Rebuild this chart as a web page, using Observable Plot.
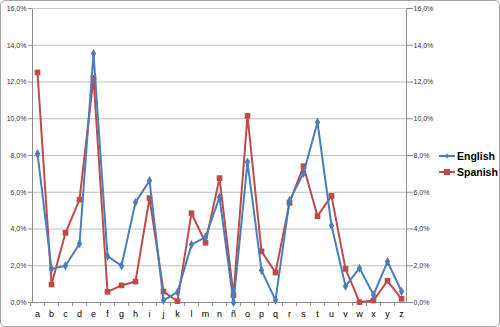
<!DOCTYPE html>
<html><head><meta charset="utf-8">
<script src="https://cdn.jsdelivr.net/npm/d3@7"></script>
<script src="https://cdn.jsdelivr.net/npm/@observablehq/plot@0.6"></script>
<style>
body{margin:0;background:#fff;font-family:"Liberation Sans",Arial,sans-serif;}
#wrap{position:relative;width:500px;height:327px;}
#border{position:absolute;left:0;top:0;width:500px;height:327px;box-sizing:border-box;border:1px solid #a6a6a6;border-radius:5px;pointer-events:none;}
#legend{position:absolute;left:439px;top:148px;font-size:10.5px;font-weight:bold;color:#000;}
.li{display:flex;align-items:center;height:16px;}
.li svg{margin-right:2px;}
</style></head><body>
<div id="wrap"><div id="chart"></div><div id="legend"></div><div id="border"></div></div>
<script>
const letters = ["a","b","c","d","e","f","g","h","i","j","k","l","m","n","ñ","o","p","q","r","s","t","u","v","w","x","y","z"];
const english = [8.1,1.83,2.0,3.2,13.55,2.52,2.0,5.45,6.63,0.12,0.56,3.15,3.56,5.73,0.0,7.64,1.75,0.13,5.55,7.04,9.81,4.19,0.89,1.87,0.42,2.23,0.6];
const spanish = [12.52,0.98,3.79,5.6,12.23,0.58,0.93,1.14,5.68,0.6,0.07,4.86,3.25,6.77,0.4,10.16,2.78,1.63,5.42,7.42,4.7,5.8,1.83,0.02,0.11,1.18,0.2];
const seriesNames = ["English","Spanish"];
const colors = ["#4A7EBB","#BE4B48"];
const yTicks = [0,2,4,6,8,10,12,14,16];

const rows = [];
letters.forEach((l,i)=>{
  rows.push({letter:l, series:"English", v:english[i]/100});
  rows.push({letter:l, series:"Spanish", v:spanish[i]/100});
});
const fmt = d => (d*100).toFixed(1).replace(".",",")+"%";
const ticks = yTicks.map(t=>t/100);
const step = (500-32-94)/letters.length;

const chart = Plot.plot({
  width:500, height:327,
  marginLeft:32, marginRight:94, marginTop:8, marginBottom:25,
  style:{fontFamily:"Liberation Sans, Arial, sans-serif", background:"transparent"},
  x:{domain:letters, padding:0, label:null},
  y:{domain:[0,0.16], label:null},
  marks:[
    Plot.gridY(ticks,{stroke:"#bfbfbf", strokeOpacity:1}),
    Plot.frame({stroke:"#8c8c8c"}),
    Plot.ruleY([0.16],{stroke:"#c8c8c8"}),
    Plot.axisY(ticks,{anchor:"left", label:null, tickFormat:fmt, tickSize:4, tickPadding:2, fontSize:7, stroke:"#8c8c8c", fill:"#333"}),
    Plot.axisY(ticks,{anchor:"right", label:null, tickFormat:fmt, tickSize:6, tickPadding:1, fontSize:7, stroke:"#8c8c8c", fill:"#333"}),
    Plot.axisX({tickSize:4, text:null, label:null, dx:-step/2, stroke:"#8c8c8c"}),
    Plot.axisX({tickSize:0, label:null, tickPadding:8, fontSize:9, fill:"#000"}),
    Plot.line(rows.filter(d=>d.series==="Spanish"),{x:"letter", y:"v", stroke:colors[1], strokeWidth:2}),
    Plot.dot(rows.filter(d=>d.series==="Spanish"),{x:"letter", y:"v", symbol:"square", r:3.2, fill:colors[1]}),
    Plot.line(rows.filter(d=>d.series==="English"),{x:"letter", y:"v", stroke:colors[0], strokeWidth:2}),
    Plot.dot(rows.filter(d=>d.series==="English"),{x:"letter", y:"v", symbol:"diamond", r:2.8, fill:colors[0]})
  ]
});
document.getElementById("chart").appendChild(chart);

const lg = document.getElementById("legend");
seriesNames.forEach((n,i)=>{
  const sym = i===0
    ? `<path d="M8,2.5 L10.5,5 L8,7.5 L5.5,5Z" fill="${colors[0]}"/>`
    : `<rect x="5" y="2" width="6" height="6" fill="${colors[1]}"/>`;
  lg.insertAdjacentHTML("beforeend",
    `<div class="li"><svg width="16" height="10"><line x1="0" x2="16" y1="5" y2="5" stroke="${colors[i]}" stroke-width="2"/>${sym}</svg><span>${n}</span></div>`);
});
</script>
</body></html>
